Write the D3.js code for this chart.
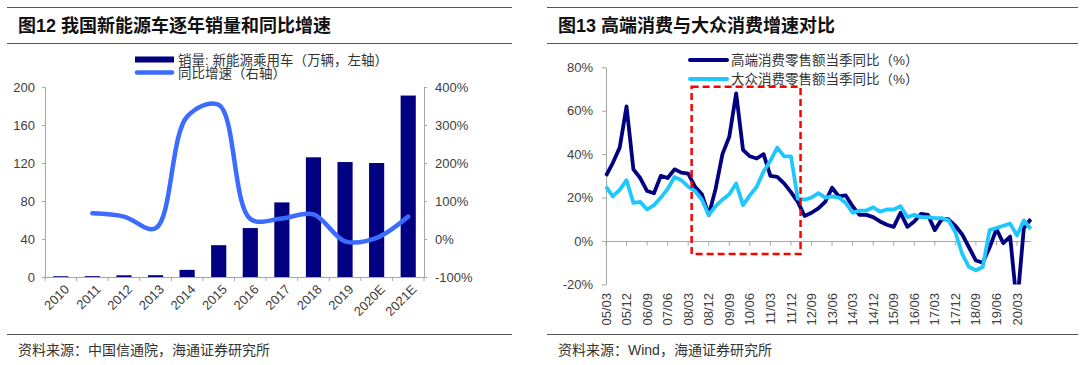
<!DOCTYPE html>
<html>
<head>
<meta charset="utf-8">
<script src="https://cdn.jsdelivr.net/npm/d3@7"></script>
<style>
  body { margin: 0; background: #fff; }
  svg { display: block; font-family: "Liberation Sans", Arial, "Noto Sans CJK SC", sans-serif; }
  .axis path, .axis line { stroke: #a6a6a6; }
  .axis text { fill: #404040; font-size: 13px; }
</style>
</head>
<body>
<svg id="chart" width="1080" height="365"></svg>
<script>
// ---- left chart data (图12) ----
const years = ['2010', '2011', '2012', '2013', '2014', '2015', '2016', '2017', '2018', '2019', '2020E', '2021E'];
const sales = [0.8, 0.9, 1.8, 1.9, 7.5, 33.5, 51.5, 78.5, 126, 121, 120, 191];   // 万辆
const growth = [null, 67.5, 59, 28, 322, 353, 53, 54, 65, -6, 3, 59];           // %
const leftTicks = [0, 40, 80, 120, 160, 200];
const rightTicks = [-100, 0, 100, 200, 300, 400];

// ---- right chart data (图13), quarterly 2005Q1 - 2020Q3 ----
const highEnd = [30, 36, 43, 62, 33, 29, 23, 22, 30, 29, 33, 31.5, 31, 25, 21.5, 12,
  24, 40, 48, 68, 42, 39, 38, 40, 30, 29.5, 26.5, 22.5, 18, 11.5, 13, 15,
  18, 24.5, 20.5, 21, 16, 12, 12, 11, 9, 7.5, 6.5, 13, 6.5, 9, 12.5, 12,
  5, 10, 10, 7, 3, -3, -9, -10, -3, 5.5, -1, 2, -30, 6, 10];
const mass = [25, 20.5, 23.5, 28, 17.5, 18, 14.5, 16.5, 20, 24, 29.5, 28, 25, 23, 19, 12,
  16, 19, 21.5, 26.5, 16.5, 21, 25, 32, 37, 43, 39, 39, 19.5, 19, 20, 22,
  20, 20.5, 20, 17.5, 13, 14, 14, 15.5, 13.5, 14.5, 14.5, 16, 11, 12, 11, 11,
  10.5, 10.5, 9.5, 4, -6, -12, -13.5, -12, 5, 6, 7, 8, 2.5, 9.5, 5.5];
const pctTicks = [-20, 0, 20, 40, 60, 80];
// highlighted period (quarter index / value range)
const box = { from: 12.5, to: 28.4, top: 71, bottom: -6 };

const quarters = [];
for (let y = 2005; y <= 2020; y++) {
  ['03', '06', '09', '12'].forEach(m => {
    if (quarters.length < highEnd.length) quarters.push(String(y).slice(2) + '/' + m);
  });
}

const svg = d3.select('#chart');

// ---- frame: titles, rules, sources ----
function frame(x0, x1, title, source) {
  svg.append('line').attr('x1', x0).attr('x2', x1).attr('y1', 7.5).attr('y2', 7.5)
    .attr('stroke', '#555').attr('stroke-width', 1.2);
  svg.append('line').attr('x1', x0).attr('x2', x1).attr('y1', 43.5).attr('y2', 43.5)
    .attr('stroke', '#555').attr('stroke-width', 1.2);
  svg.append('line').attr('x1', x0).attr('x2', x1).attr('y1', 334.5).attr('y2', 334.5)
    .attr('stroke', '#555').attr('stroke-width', 1.2);
  svg.append('text').attr('x', x0 + 11).attr('y', 32)
    .attr('font-size', 18).attr('font-weight', 'bold').attr('fill', '#111')
    .text(title);
  svg.append('text').attr('x', x0 + 11).attr('y', 355)
    .attr('font-size', 14).attr('fill', '#333')
    .text(source);
}
frame(7, 512, '图12 我国新能源车逐年销量和同比增速', '资料来源：中国信通院，海通证券研究所');
frame(547, 1078, '图13 高端消费与大众消费增速对比', '资料来源：Wind，海通证券研究所');

// ---- left chart ----
const x = d3.scaleBand().domain(years).range([45, 424]).paddingInner(0.52).paddingOuter(0.26);
const yL = d3.scaleLinear().domain([0, 200]).range([277, 87]);
const yR = d3.scaleLinear().domain([-100, 400]).range([277, 87]);

svg.append('g').attr('class', 'axis').attr('transform', 'translate(45,0)')
  .call(d3.axisLeft(yL).tickValues(leftTicks).tickSize(3).tickPadding(7).tickSizeOuter(0));
svg.append('g').attr('class', 'axis').attr('transform', 'translate(424,0)')
  .call(d3.axisRight(yR).tickValues(rightTicks).tickFormat(d => d + '%').tickSize(3).tickPadding(8).tickSizeOuter(0));

// category axis with ticks between categories
const xAxis = svg.append('g').attr('class', 'axis');
xAxis.append('line').attr('x1', 45).attr('x2', 424).attr('y1', 277.5).attr('y2', 277.5);
const bounds = years.map(d => x(d) - x.step() * x.paddingInner() / 2).concat([424]);
xAxis.selectAll('line.tk').data(bounds).join('line').attr('class', 'tk')
  .attr('x1', d => d).attr('x2', d => d).attr('y1', 277.5).attr('y2', 281);
xAxis.selectAll('text').data(years).join('text')
  .attr('transform', d => `translate(${x(d) + x.bandwidth() / 2 + 6},${287}) rotate(-45)`)
  .attr('text-anchor', 'end').attr('dy', '0.35em')
  .text(d => d);

svg.selectAll('rect.bar').data(years).join('rect').attr('class', 'bar')
  .attr('x', d => x(d)).attr('width', x.bandwidth())
  .attr('y', (d, i) => yL(sales[i])).attr('height', (d, i) => yL(0) - yL(sales[i]))
  .attr('fill', '#000080');

const growthLine = d3.line()
  .defined(d => d[1] != null)
  .x(d => x(d[0]) + x.bandwidth() / 2)
  .y(d => yR(d[1]))
  .curve(d3.curveCatmullRom.alpha(0.5));
svg.append('path').datum(years.map((d, i) => [d, growth[i]]))
  .attr('d', growthLine).attr('fill', 'none')
  .attr('stroke', '#3b6cff').attr('stroke-width', 4.5).attr('stroke-linecap', 'round');

// left legend
svg.append('rect').attr('x', 135).attr('y', 56.5).attr('width', 39).attr('height', 6).attr('fill', '#000080');
svg.append('line').attr('x1', 137).attr('x2', 172).attr('y1', 72.5).attr('y2', 72.5)
  .attr('stroke', '#3b6cff').attr('stroke-width', 4.5).attr('stroke-linecap', 'round');
svg.append('text').attr('x', 178).attr('y', 60).attr('dy', '0.35em').attr('font-size', 13.5).attr('fill', '#333')
  .text('销量: 新能源乘用车（万辆，左轴）');
svg.append('text').attr('x', 178).attr('y', 73).attr('dy', '0.35em').attr('font-size', 13.5).attr('fill', '#333')
  .text('同比增速（右轴）');

// ---- right chart ----
const xq = d3.scaleLinear().domain([0, quarters.length - 1]).range([606, 1030.7]);
const yP = d3.scaleLinear().domain([-20, 80]).range([284.4, 67.3]);

svg.append('g').attr('class', 'axis').attr('transform', 'translate(606,0)')
  .call(d3.axisLeft(yP).tickValues(pctTicks).tickFormat(d => d + '%').tickSize(4).tickPadding(9).tickSizeOuter(0));

const tickIdx = quarters.map((q, i) => i).filter(i => i % 3 === 0);
const qAxis = svg.append('g').attr('class', 'axis');
qAxis.append('line').attr('x1', 606).attr('x2', 1030.7).attr('y1', yP(0) + 0.5).attr('y2', yP(0) + 0.5);
qAxis.selectAll('line.tk').data(tickIdx).join('line').attr('class', 'tk')
  .attr('x1', d => xq(d)).attr('x2', d => xq(d)).attr('y1', yP(0) + 0.5).attr('y2', yP(0) + 4.5);
qAxis.selectAll('text').data(tickIdx).join('text')
  .attr('transform', d => `translate(${xq(d)},${293}) rotate(-90)`)
  .attr('text-anchor', 'end').attr('dy', '0.35em')
  .text(d => quarters[d]);

svg.append('clipPath').attr('id', 'plotClip')
  .append('rect').attr('x', 600).attr('y', 50).attr('width', 440).attr('height', yP(-20) - 50);

const qLine = d3.line().x((d, i) => xq(i)).y(d => yP(d));
const plot = svg.append('g').attr('clip-path', 'url(#plotClip)');
plot.append('path').datum(highEnd).attr('d', qLine).attr('fill', 'none')
  .attr('stroke', '#000080').attr('stroke-width', 3.8).attr('stroke-linejoin', 'round');
plot.append('path').datum(mass).attr('d', qLine).attr('fill', 'none')
  .attr('stroke', '#1ec8ff').attr('stroke-width', 3.8).attr('stroke-linejoin', 'round');

svg.append('rect')
  .attr('x', xq(box.from)).attr('y', yP(box.top))
  .attr('width', xq(box.to) - xq(box.from)).attr('height', yP(box.bottom) - yP(box.top))
  .attr('fill', 'none').attr('stroke', '#ff0000').attr('stroke-width', 2.5)
  .attr('stroke-dasharray', '7,4');

// right legend
svg.append('line').attr('x1', 690).attr('x2', 727).attr('y1', 60).attr('y2', 60)
  .attr('stroke', '#000080').attr('stroke-width', 4).attr('stroke-linecap', 'round');
svg.append('line').attr('x1', 690).attr('x2', 727).attr('y1', 79).attr('y2', 79)
  .attr('stroke', '#1ec8ff').attr('stroke-width', 4).attr('stroke-linecap', 'round');
svg.append('text').attr('x', 731).attr('y', 60).attr('dy', '0.35em').attr('font-size', 13.5).attr('fill', '#333')
  .text('高端消费零售额当季同比（%）');
svg.append('text').attr('x', 731).attr('y', 79).attr('dy', '0.35em').attr('font-size', 13.5).attr('fill', '#333')
  .text('大众消费零售额当季同比（%）');
</script>
</body>
</html>
